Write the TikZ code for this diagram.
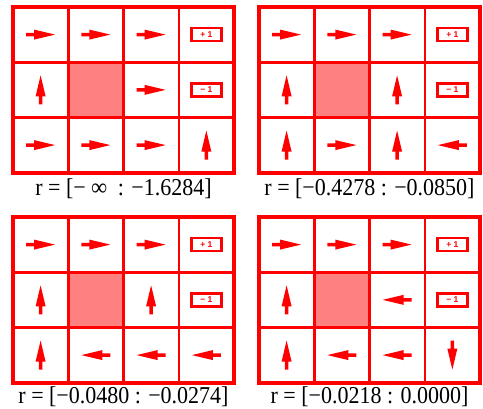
\documentclass[tikz,border=0pt]{standalone}
\usepackage{fontspec}
\setmainfont{Liberation Serif}
\newfontfamily\rewardfont{Liberation Sans}
\usepackage{tikz}

\begin{document}
\begin{tikzpicture}[x=1pt, y=-1pt,
  cell/.style={draw=red, line width=2.5pt},
  frame/.style={draw=red, line width=3.5pt},
  wall/.style={fill=red!50},
  policy/.style={fill=red},
  reward/.style={draw=red, line width=2.6pt, text=red, minimum width=30pt,
    minimum height=13pt, inner sep=0pt,
    font=\rewardfont\bfseries\fontsize{8.5}{8.5}\selectfont},
  caption/.style={font=\fontsize{22}{22}\selectfont, anchor=base, yscale=1.1},
]
  \useasboundingbox (0,0) rectangle (483,408);

  % top left
  \begin{scope}[shift={(13,7)}]
    \fill[wall] (55.25,55.25) rectangle (110.5,110.5);
    \foreach \i in {1,2,3} \draw[cell] (\i*55.25,0) -- (\i*55.25,165.75);
    \foreach \j in {1,2} \draw[cell] (0,\j*55.25) -- (221,\j*55.25);
    \draw[frame] (0,0) rectangle (221,165.75);
    \foreach \c/\r/\a in {0/0/0, 1/0/0, 2/0/0, 0/1/90, 2/1/0, 0/2/0, 1/2/0, 2/2/0, 3/2/90}
      \fill[policy, shift={(\c*55.25+27.6,\r*55.25+27.6)}, rotate=\a]
        (-14.5,-1.75) -- (-6.5,-1.75) -- (-6.5,-5) -- (14.5,0) -- (-6.5,5) -- (-6.5,1.75) -- (-14.5,1.75) -- cycle;
    \node[reward] (goalA) at (193.4,27.6) {+ 1};
    \node[reward] (pitA) at (193.4,82.9) {− 1};
    \node[caption] (rangeA) at (110.5,188) {r = [− {\bfseries ∞} \ : −1.6284]};
  \end{scope}

  % top right
  \begin{scope}[shift={(259,7)}]
    \fill[wall] (55.25,55.25) rectangle (110.5,110.5);
    \foreach \i in {1,2,3} \draw[cell] (\i*55.25,0) -- (\i*55.25,165.75);
    \foreach \j in {1,2} \draw[cell] (0,\j*55.25) -- (221,\j*55.25);
    \draw[frame] (0,0) rectangle (221,165.75);
    \foreach \c/\r/\a in {0/0/0, 1/0/0, 2/0/0, 0/1/90, 2/1/90, 0/2/90, 1/2/0, 2/2/90, 3/2/180}
      \fill[policy, shift={(\c*55.25+27.6,\r*55.25+27.6)}, rotate=\a]
        (-14.5,-1.75) -- (-6.5,-1.75) -- (-6.5,-5) -- (14.5,0) -- (-6.5,5) -- (-6.5,1.75) -- (-14.5,1.75) -- cycle;
    \node[reward] (goalB) at (193.4,27.6) {+ 1};
    \node[reward] (pitB) at (193.4,82.9) {− 1};
    \node[caption] (rangeB) at (110.5,188) {r = [−0.4278 : −0.0850]};
  \end{scope}

  % bottom left
  \begin{scope}[shift={(13,217)}]
    \fill[wall] (55.25,55.25) rectangle (110.5,110.5);
    \foreach \i in {1,2,3} \draw[cell] (\i*55.25,0) -- (\i*55.25,165.75);
    \foreach \j in {1,2} \draw[cell] (0,\j*55.25) -- (221,\j*55.25);
    \draw[frame] (0,0) rectangle (221,165.75);
    \foreach \c/\r/\a in {0/0/0, 1/0/0, 2/0/0, 0/1/90, 2/1/90, 0/2/90, 1/2/180, 2/2/180, 3/2/180}
      \fill[policy, shift={(\c*55.25+27.6,\r*55.25+27.6)}, rotate=\a]
        (-14.5,-1.75) -- (-6.5,-1.75) -- (-6.5,-5) -- (14.5,0) -- (-6.5,5) -- (-6.5,1.75) -- (-14.5,1.75) -- cycle;
    \node[reward] (goalC) at (193.4,27.6) {+ 1};
    \node[reward] (pitC) at (193.4,82.9) {− 1};
    \node[caption] (rangeC) at (110.5,186.5) {r = [−0.0480 : −0.0274]};
  \end{scope}

  % bottom right
  \begin{scope}[shift={(259,217)}]
    \fill[wall] (55.25,55.25) rectangle (110.5,110.5);
    \foreach \i in {1,2,3} \draw[cell] (\i*55.25,0) -- (\i*55.25,165.75);
    \foreach \j in {1,2} \draw[cell] (0,\j*55.25) -- (221,\j*55.25);
    \draw[frame] (0,0) rectangle (221,165.75);
    \foreach \c/\r/\a in {0/0/0, 1/0/0, 2/0/0, 0/1/90, 2/1/180, 0/2/90, 1/2/180, 2/2/180, 3/2/-90}
      \fill[policy, shift={(\c*55.25+27.6,\r*55.25+27.6)}, rotate=\a]
        (-14.5,-1.75) -- (-6.5,-1.75) -- (-6.5,-5) -- (14.5,0) -- (-6.5,5) -- (-6.5,1.75) -- (-14.5,1.75) -- cycle;
    \node[reward] (goalD) at (193.4,27.6) {+ 1};
    \node[reward] (pitD) at (193.4,82.9) {− 1};
    \node[caption] (rangeD) at (110.5,186.5) {r = [−0.0218 : 0.0000]};
  \end{scope}
\end{tikzpicture}
\end{document}
